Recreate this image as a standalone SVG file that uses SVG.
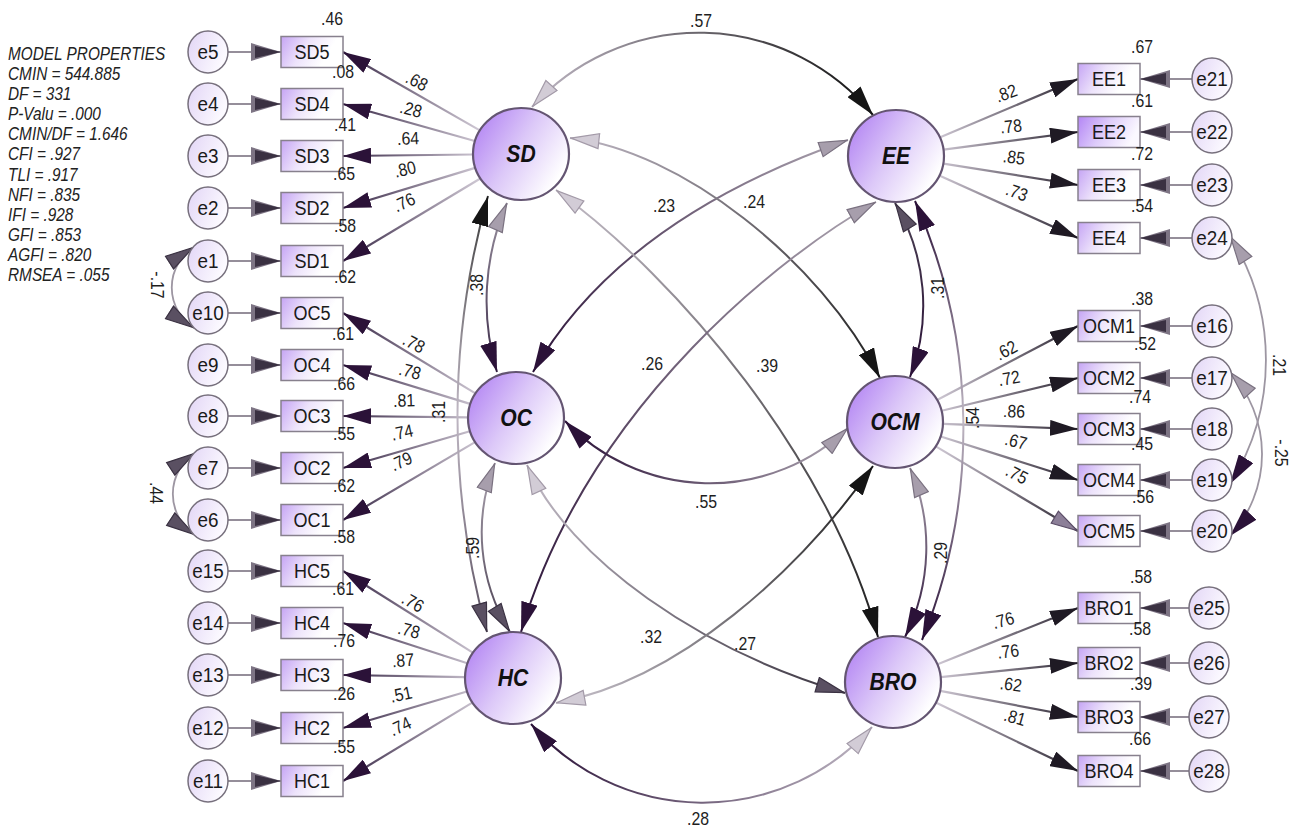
<svg xmlns="http://www.w3.org/2000/svg" width="1292" height="827" viewBox="0 0 1292 827">
<style>
  text { font-family: "Liberation Sans", Arial, sans-serif; }
  .n  { font-size: 18px; fill: #1e1e1e; text-anchor: middle; transform: scaleX(.88); transform-box: fill-box; transform-origin: center; }
  .bl { font-size: 21px; fill: #1a1a1a; text-anchor: middle; transform: scaleX(.86); transform-box: fill-box; transform-origin: center; }
  .el { font-size: 21px; fill: #1a1a1a; text-anchor: middle; transform: scaleX(.9); transform-box: fill-box; transform-origin: center; }
  .lv { font-size: 24px; font-weight: bold; font-style: italic; fill: #111; text-anchor: middle; transform: scaleX(.88); transform-box: fill-box; transform-origin: center; }
  .mp { font-size: 18.5px; font-style: italic; fill: #222; }
  .box { fill: url(#gBox); stroke: #87808d; stroke-width: 1.5; }
  .box2 { fill: url(#gBox2); stroke: #87808d; stroke-width: 1.5; }
  .err { fill: url(#gErr); stroke: #77707d; stroke-width: 1.5; }
  .lat { fill: url(#gLat); stroke: #645572; stroke-width: 2.2; }
  .ea { stroke: #958e9a; stroke-width: 2; fill: none; }
  .eaL { marker-end: url(#mErr); }
  .ldL { stroke: url(#gLoadL); stroke-width: 2.2; fill: none; marker-end: url(#mLoadL); }
  .ldR { stroke: url(#gLoadR); stroke-width: 2.2; fill: none; marker-end: url(#mLoadR); }
  .cv { fill: none; stroke-width: 2; }
  .ec { fill: none; stroke: #9d96a2; stroke-width: 1.8; }
</style>
<defs>
  <linearGradient id="gBox" x1="0" y1="0" x2="1" y2="0.3">
    <stop offset="0" stop-color="#c5a4f4"/><stop offset="0.45" stop-color="#ede3fb"/><stop offset="0.85" stop-color="#ffffff"/>
  </linearGradient>
  <linearGradient id="gBox2" x1="0" y1="0" x2="1" y2="0.3">
    <stop offset="0" stop-color="#b385f5"/><stop offset="0.5" stop-color="#ddcbfa"/><stop offset="1" stop-color="#fbf8ff"/>
  </linearGradient>
  <linearGradient id="gLat" x1="0" y1="0.2" x2="1" y2="0.8">
    <stop offset="0" stop-color="#b385f3"/><stop offset="0.45" stop-color="#dcc8f8"/><stop offset="0.9" stop-color="#ffffff"/>
  </linearGradient>
  <linearGradient id="gErr" x1="0" y1="0" x2="1" y2="0.4">
    <stop offset="0" stop-color="#e2d5f6"/><stop offset="1" stop-color="#fcfaff"/>
  </linearGradient>
  <linearGradient id="gLoadL" gradientUnits="userSpaceOnUse" x1="345" y1="0" x2="478" y2="0">
    <stop offset="0" stop-color="#3a2a48"/><stop offset="1" stop-color="#cdc6d2"/>
  </linearGradient>
  <linearGradient id="gLoadR" gradientUnits="userSpaceOnUse" x1="938" y1="0" x2="1078" y2="0">
    <stop offset="0" stop-color="#cdc6d2"/><stop offset="1" stop-color="#2a2430"/>
  </linearGradient>
  <linearGradient id="g57" gradientUnits="userSpaceOnUse" x1="532" y1="107" x2="873" y2="115"><stop offset="0" stop-color="#bdb5c2"/><stop offset="1" stop-color="#111"/></linearGradient>
  <linearGradient id="g23" gradientUnits="userSpaceOnUse" x1="533" y1="372" x2="848" y2="140"><stop offset="0" stop-color="#2b1238"/><stop offset="1" stop-color="#aaa2ae"/></linearGradient>
  <linearGradient id="g24" gradientUnits="userSpaceOnUse" x1="570" y1="138" x2="880" y2="378"><stop offset="0" stop-color="#bdb5c2"/><stop offset="1" stop-color="#1e1e1e"/></linearGradient>
  <linearGradient id="g39" gradientUnits="userSpaceOnUse" x1="556" y1="190" x2="878" y2="637"><stop offset="0" stop-color="#c2bbc6"/><stop offset="1" stop-color="#1e1e1e"/></linearGradient>
  <linearGradient id="g26" gradientUnits="userSpaceOnUse" x1="876" y1="202" x2="521" y2="632"><stop offset="0" stop-color="#aaa2ae"/><stop offset="1" stop-color="#2b1238"/></linearGradient>
  <linearGradient id="g55" gradientUnits="userSpaceOnUse" x1="565" y1="421" x2="848" y2="428"><stop offset="0" stop-color="#2b1238"/><stop offset="1" stop-color="#aaa2ae"/></linearGradient>
  <linearGradient id="g27" gradientUnits="userSpaceOnUse" x1="527" y1="465" x2="845" y2="693"><stop offset="0" stop-color="#c2bbc6"/><stop offset="1" stop-color="#3a3440"/></linearGradient>
  <linearGradient id="g32" gradientUnits="userSpaceOnUse" x1="873" y1="466" x2="556" y2="703"><stop offset="0" stop-color="#1a1a1a"/><stop offset="1" stop-color="#c8c2cc"/></linearGradient>
  <linearGradient id="g28" gradientUnits="userSpaceOnUse" x1="531" y1="724" x2="872" y2="727"><stop offset="0" stop-color="#2b1238"/><stop offset="1" stop-color="#bdb5c2"/></linearGradient>
  <linearGradient id="gA" gradientUnits="userSpaceOnUse" x1="507" y1="203" x2="497" y2="372"><stop offset="0" stop-color="#9a92a0"/><stop offset="1" stop-color="#3b2a48"/></linearGradient>
  <linearGradient id="gB" gradientUnits="userSpaceOnUse" x1="488" y1="196" x2="487" y2="632"><stop offset="0" stop-color="#3a3a3a"/><stop offset="0.5" stop-color="#c0b8c4"/><stop offset="1" stop-color="#5a5060"/></linearGradient>
  <linearGradient id="gC" gradientUnits="userSpaceOnUse" x1="495" y1="463" x2="510" y2="632"><stop offset="0" stop-color="#aaa2ae"/><stop offset="1" stop-color="#4a4052"/></linearGradient>
  <linearGradient id="gD" gradientUnits="userSpaceOnUse" x1="895" y1="203" x2="910" y2="377"><stop offset="0" stop-color="#4a4052"/><stop offset="1" stop-color="#2b1238"/></linearGradient>
  <linearGradient id="gE" gradientUnits="userSpaceOnUse" x1="915" y1="201" x2="922" y2="640"><stop offset="0" stop-color="#2b1238"/><stop offset="0.5" stop-color="#c0b8c4"/><stop offset="1" stop-color="#2b1238"/></linearGradient>
  <linearGradient id="gF" gradientUnits="userSpaceOnUse" x1="910" y1="468" x2="905" y2="637"><stop offset="0" stop-color="#aaa2ae"/><stop offset="1" stop-color="#2b1238"/></linearGradient>

  <marker id="mLoadL" markerUnits="userSpaceOnUse" viewBox="0 0 28 16" markerWidth="28" markerHeight="16" refX="28" refY="8" orient="auto-start-reverse"><path d="M0,0 L28,8 L0,16 z" fill="#2b1238"/></marker>
  <marker id="mLoadR" markerUnits="userSpaceOnUse" viewBox="0 0 28 16" markerWidth="28" markerHeight="16" refX="28" refY="8" orient="auto-start-reverse"><path d="M0,0 L28,8 L0,16 z" fill="#1f1a24"/></marker>
  <marker id="mLoadG" markerUnits="userSpaceOnUse" viewBox="0 0 28 16" markerWidth="28" markerHeight="16" refX="28" refY="8" orient="auto-start-reverse"><path d="M1,1 L27,8 L1,15 z" fill="#8c7f98" stroke="#5a4c66" stroke-width="1.2"/></marker>
  <marker id="mErr" markerUnits="userSpaceOnUse" viewBox="0 0 30 18" markerWidth="30" markerHeight="18" refX="30" refY="9" orient="auto-start-reverse"><path d="M0,0 L30,9 L0,18 z" fill="#7d7484"/><path d="M4,3 L30,9 L4,15 z" fill="#3a3142"/></marker>
  <marker id="mBlack" markerUnits="userSpaceOnUse" viewBox="0 0 30 17" markerWidth="30" markerHeight="17" refX="30" refY="8.5" orient="auto-start-reverse"><path d="M0,0 L30,8.5 L0,17 z" fill="#151515"/></marker>
  <marker id="mPurple" markerUnits="userSpaceOnUse" viewBox="0 0 30 17" markerWidth="30" markerHeight="17" refX="30" refY="8.5" orient="auto-start-reverse"><path d="M0,0 L30,8.5 L0,17 z" fill="#2b1238"/></marker>
  <marker id="mDark" markerUnits="userSpaceOnUse" viewBox="0 0 30 17" markerWidth="30" markerHeight="17" refX="30" refY="8.5" orient="auto-start-reverse"><path d="M1,1 L29,8.5 L1,16 z" fill="#5a5062" stroke="#3a3142" stroke-width="1.2"/></marker>
  <marker id="mGray" markerUnits="userSpaceOnUse" viewBox="0 0 30 17" markerWidth="30" markerHeight="17" refX="30" refY="8.5" orient="auto-start-reverse"><path d="M1,1 L29,8.5 L1,16 z" fill="#a79eac" stroke="#7a7180" stroke-width="1.2"/></marker>
  <marker id="mLight" markerUnits="userSpaceOnUse" viewBox="0 0 30 17" markerWidth="30" markerHeight="17" refX="30" refY="8.5" orient="auto-start-reverse"><path d="M1,1 L29,8.5 L1,16 z" fill="#d2ccd6" stroke="#a39aa8" stroke-width="1.2"/></marker>
</defs>

<rect width="1292" height="827" fill="#ffffff"/>

<!-- fit statistics -->
<g id="model-properties" transform="translate(8,0) scale(0.83,1)">
  <text class="mp" x="0" y="60">MODEL PROPERTIES</text>
  <text class="mp" x="0" y="80.1">CMIN = 544.885</text>
  <text class="mp" x="0" y="100.2">DF = 331</text>
  <text class="mp" x="0" y="120.3">P-Valu = .000</text>
  <text class="mp" x="0" y="140.4">CMIN/DF = 1.646</text>
  <text class="mp" x="0" y="160.5">CFI = .927</text>
  <text class="mp" x="0" y="180.6">TLI = .917</text>
  <text class="mp" x="0" y="200.7">NFI = .835</text>
  <text class="mp" x="0" y="220.8">IFI = .928</text>
  <text class="mp" x="0" y="240.9">GFI = .853</text>
  <text class="mp" x="0" y="261">AGFI = .820</text>
  <text class="mp" x="0" y="281.1">RMSEA = .055</text>
</g>

<!-- connectors -->
<g id="connectors">
  <!-- error terms to indicators, left -->
  <g class="ea">
    <path class="eaL" d="M228,52 H281"/><path class="eaL" d="M228,104 H281"/><path class="eaL" d="M228,156 H281"/>
    <path class="eaL" d="M228,208 H281"/><path class="eaL" d="M228,261 H281"/><path class="eaL" d="M228,313 H281"/>
    <path class="eaL" d="M228,365 H281"/><path class="eaL" d="M228,416 H281"/><path class="eaL" d="M228,468 H281"/>
    <path class="eaL" d="M228,520 H281"/><path class="eaL" d="M228,571 H281"/><path class="eaL" d="M228,623 H281"/>
    <path class="eaL" d="M228,675 H281"/><path class="eaL" d="M228,728 H281"/><path class="eaL" d="M228,781 H281"/>
  </g>
  <!-- error terms to indicators, right -->
  <g class="ea">
    <path class="eaL" d="M1192,79 H1140"/><path class="eaL" d="M1192,132 H1140"/><path class="eaL" d="M1192,185 H1140"/>
    <path class="eaL" d="M1192,238 H1140"/><path class="eaL" d="M1192,326 H1140"/><path class="eaL" d="M1192,378 H1140"/>
    <path class="eaL" d="M1192,429 H1140"/><path class="eaL" d="M1192,480 H1140"/><path class="eaL" d="M1192,531 H1140"/>
    <path class="eaL" d="M1189,608 H1140"/><path class="eaL" d="M1189,663 H1140"/><path class="eaL" d="M1189,717 H1140"/>
    <path class="eaL" d="M1189,771 H1140"/>
  </g>

  <!-- factor loadings, left -->
  <path class="ldL" d="M479.4,130.1 L343,52"/>
  <path class="ldL" d="M474.8,141 L343,104"/>
  <path class="ldL" d="M473,154.5 L343,156"/>
  <path class="ldL" d="M475.1,167.9 L343,208"/>
  <path class="ldL" d="M479.9,178.7 L343,261"/>
  <path class="ldL" d="M475,393.1 L343,313"/>
  <path class="ldL" d="M470.1,403.9 L343,365"/>
  <path class="ldL" d="M468,417.4 L343,416"/>
  <path class="ldL" d="M469.9,431.3 L343,468"/>
  <path class="ldL" d="M474.6,442.4 L343,520"/>
  <path class="ldL" d="M472.4,652.4 L343,571"/>
  <path class="ldL" d="M467.3,663.2 L343,623"/>
  <path class="ldL" d="M465,677.2 L343,675"/>
  <path class="ldL" d="M466.9,691.5 L343,728"/>
  <path class="ldL" d="M471.9,702.9 L343,781"/>

  <!-- factor loadings, right -->
  <path class="ldR" d="M940.2,137.3 L1078,79"/>
  <path class="ldR" d="M943.6,149.7 L1078,132"/>
  <path class="ldR" d="M943.4,163.6 L1078,185"/>
  <path class="ldR" d="M939.8,175.7 L1078,238"/>
  <path class="ldR" d="M937.5,399.7 L1078,326"/>
  <path class="ldR" d="M941.7,410.8 L1078,378"/>
  <path class="ldR" d="M943,423.8 L1078,429"/>
  <path class="ldR" d="M940.7,436.5 L1078,480"/>
  <path class="ldR" d="M936.2,446.6 L1078,531" style="marker-end:url(#mLoadG)"/>
  <path class="ldR" d="M937.6,664.2 L1078,608"/>
  <path class="ldR" d="M940.7,677.1 L1078,663"/>
  <path class="ldR" d="M940.2,690.9 L1078,717"/>
  <path class="ldR" d="M936.3,702.8 L1078,771"/>

  <!-- covariances between factors -->
  <path class="cv" stroke="url(#g57)" d="M532,107 A225,225 0 0 1 873,115" marker-start="url(#mLight)" marker-end="url(#mBlack)"/>
  <path class="cv" stroke="url(#g23)" d="M533,372 Q620,220 848,140" marker-start="url(#mPurple)" marker-end="url(#mGray)"/>
  <path class="cv" stroke="url(#g24)" d="M570,138 C680,150 820,260 880,378" marker-start="url(#mLight)" marker-end="url(#mBlack)"/>
  <path class="cv" stroke="url(#g39)" d="M556,190 C680,280 830,460 878,637" marker-start="url(#mLight)" marker-end="url(#mBlack)"/>
  <path class="cv" stroke="url(#g26)" d="M876,202 C790,250 590,400 521,632" marker-start="url(#mGray)" marker-end="url(#mPurple)"/>
  <path class="cv" stroke="url(#g55)" d="M565,421 A200,200 0 0 0 848,428" marker-start="url(#mPurple)" marker-end="url(#mGray)"/>
  <path class="cv" stroke="url(#g27)" d="M527,465 C570,560 700,650 845,693" marker-start="url(#mLight)" marker-end="url(#mDark)"/>
  <path class="cv" stroke="url(#g32)" d="M873,466 C800,570 680,680 556,703" marker-start="url(#mBlack)" marker-end="url(#mLight)"/>
  <path class="cv" stroke="url(#g28)" d="M531,724 A227,227 0 0 0 872,727" marker-start="url(#mPurple)" marker-end="url(#mLight)"/>
  <path class="cv" stroke="url(#gA)" d="M507,203 A246,246 0 0 0 497,372" marker-start="url(#mGray)" marker-end="url(#mPurple)"/>
  <path class="cv" stroke="url(#gB)" d="M488,196 A807,807 0 0 0 487,632" marker-start="url(#mBlack)" marker-end="url(#mDark)"/>
  <path class="cv" stroke="url(#gC)" d="M495,463 A189,189 0 0 0 510,632" marker-start="url(#mGray)" marker-end="url(#mDark)"/>
  <path class="cv" stroke="url(#gD)" d="M895,203 A200,200 0 0 1 910,377" marker-start="url(#mDark)" marker-end="url(#mPurple)"/>
  <path class="cv" stroke="url(#gE)" d="M915,201 A560,560 0 0 1 922,640" marker-start="url(#mPurple)" marker-end="url(#mPurple)"/>
  <path class="cv" stroke="url(#gF)" d="M910,468 A200,200 0 0 1 905,637" marker-start="url(#mGray)" marker-end="url(#mPurple)"/>

  <!-- covariances between error terms -->
  <path class="ec" d="M194,247 A48,48 0 0 0 194,328" marker-start="url(#mDark)" marker-end="url(#mDark)"/>
  <path class="ec" d="M195,453 A49,49 0 0 0 195,535" marker-start="url(#mDark)" marker-end="url(#mDark)"/>
  <path class="ec" d="M1230,236 A232,232 0 0 1 1230,484" marker-start="url(#mGray)" marker-end="url(#mPurple)"/>
  <path class="ec" d="M1230,372 A121,121 0 0 1 1230,536" marker-start="url(#mGray)" marker-end="url(#mPurple)"/>
</g>

<!-- latent factors -->
<g id="SD"><ellipse class="lat" cx="521" cy="154" rx="48" ry="46"/><text class="lv" x="521" y="162.5">SD</text></g>
<g id="EE"><ellipse class="lat" cx="896" cy="156" rx="48" ry="46"/><text class="lv" x="896" y="164.5">EE</text></g>
<g id="OC"><ellipse class="lat" cx="516" cy="418" rx="48" ry="46"/><text class="lv" x="516" y="426.5">OC</text></g>
<g id="OCM"><ellipse class="lat" cx="895" cy="422" rx="48" ry="46"/><text class="lv" x="895" y="430.5">OCM</text></g>
<g id="HC"><ellipse class="lat" cx="513" cy="678" rx="48" ry="46"/><text class="lv" x="513" y="686.5">HC</text></g>
<g id="BRO"><ellipse class="lat" cx="893" cy="682" rx="48" ry="46"/><text class="lv" x="893" y="690.5">BRO</text></g>

<!-- indicators, left -->
<g id="SD5"><rect class="box" x="281" y="36.5" width="62" height="31"/><text class="bl" x="312" y="59.5">SD5</text></g>
<g id="SD4"><rect class="box" x="281" y="88.5" width="62" height="31"/><text class="bl" x="312" y="111.5">SD4</text></g>
<g id="SD3"><rect class="box" x="281" y="140.5" width="62" height="31"/><text class="bl" x="312" y="163.5">SD3</text></g>
<g id="SD2"><rect class="box" x="281" y="192.5" width="62" height="31"/><text class="bl" x="312" y="215.5">SD2</text></g>
<g id="SD1"><rect class="box" x="281" y="245.5" width="62" height="31"/><text class="bl" x="312" y="268.5">SD1</text></g>
<g id="OC5"><rect class="box" x="281" y="297.5" width="62" height="31"/><text class="bl" x="312" y="320.5">OC5</text></g>
<g id="OC4"><rect class="box" x="281" y="349.5" width="62" height="31"/><text class="bl" x="312" y="372.5">OC4</text></g>
<g id="OC3"><rect class="box" x="281" y="400.5" width="62" height="31"/><text class="bl" x="312" y="423.5">OC3</text></g>
<g id="OC2"><rect class="box" x="281" y="452.5" width="62" height="31"/><text class="bl" x="312" y="475.5">OC2</text></g>
<g id="OC1"><rect class="box" x="281" y="504.5" width="62" height="31"/><text class="bl" x="312" y="527.5">OC1</text></g>
<g id="HC5"><rect class="box" x="281" y="555.5" width="62" height="31"/><text class="bl" x="312" y="578.5">HC5</text></g>
<g id="HC4"><rect class="box" x="281" y="607.5" width="62" height="31"/><text class="bl" x="312" y="630.5">HC4</text></g>
<g id="HC3"><rect class="box" x="281" y="659.5" width="62" height="31"/><text class="bl" x="312" y="682.5">HC3</text></g>
<g id="HC2"><rect class="box" x="281" y="712.5" width="62" height="31"/><text class="bl" x="312" y="735.5">HC2</text></g>
<g id="HC1"><rect class="box" x="281" y="765.5" width="62" height="31"/><text class="bl" x="312" y="788.5">HC1</text></g>

<!-- indicators, right -->
<g id="EE1"><rect class="box" x="1078" y="63.5" width="62" height="31"/><text class="bl" x="1109" y="86.5">EE1</text></g>
<g id="EE2"><rect class="box2" x="1078" y="116.5" width="62" height="31"/><text class="bl" x="1109" y="139.5">EE2</text></g>
<g id="EE3"><rect class="box" x="1078" y="169.5" width="62" height="31"/><text class="bl" x="1109" y="192.5">EE3</text></g>
<g id="EE4"><rect class="box" x="1078" y="222.5" width="62" height="31"/><text class="bl" x="1109" y="245.5">EE4</text></g>
<g id="OCM1"><rect class="box" x="1078" y="310.5" width="62" height="31"/><text class="bl" x="1109" y="333.5">OCM1</text></g>
<g id="OCM2"><rect class="box" x="1078" y="362.5" width="62" height="31"/><text class="bl" x="1109" y="385.5">OCM2</text></g>
<g id="OCM3"><rect class="box" x="1078" y="413.5" width="62" height="31"/><text class="bl" x="1109" y="436.5">OCM3</text></g>
<g id="OCM4"><rect class="box" x="1078" y="464.5" width="62" height="31"/><text class="bl" x="1109" y="487.5">OCM4</text></g>
<g id="OCM5"><rect class="box" x="1078" y="515.5" width="62" height="31"/><text class="bl" x="1109" y="538.5">OCM5</text></g>
<g id="BRO1"><rect class="box" x="1078" y="592.5" width="62" height="31"/><text class="bl" x="1109" y="615.5">BRO1</text></g>
<g id="BRO2"><rect class="box" x="1078" y="647.5" width="62" height="31"/><text class="bl" x="1109" y="670.5">BRO2</text></g>
<g id="BRO3"><rect class="box" x="1078" y="701.5" width="62" height="31"/><text class="bl" x="1109" y="724.5">BRO3</text></g>
<g id="BRO4"><rect class="box" x="1078" y="755.5" width="62" height="31"/><text class="bl" x="1109" y="778.5">BRO4</text></g>

<!-- error terms, left -->
<g id="e5"><ellipse class="err" cx="208" cy="52" rx="20" ry="21"/><text class="el" x="208" y="59.5">e5</text></g>
<g id="e4"><ellipse class="err" cx="208" cy="104" rx="20" ry="21"/><text class="el" x="208" y="111.5">e4</text></g>
<g id="e3"><ellipse class="err" cx="208" cy="156" rx="20" ry="21"/><text class="el" x="208" y="163.5">e3</text></g>
<g id="e2"><ellipse class="err" cx="208" cy="208" rx="20" ry="21"/><text class="el" x="208" y="215.5">e2</text></g>
<g id="e1"><ellipse class="err" cx="208" cy="261" rx="20" ry="21"/><text class="el" x="208" y="268.5">e1</text></g>
<g id="e10"><ellipse class="err" cx="208" cy="313" rx="20" ry="21"/><text class="el" x="208" y="320.5">e10</text></g>
<g id="e9"><ellipse class="err" cx="208" cy="365" rx="20" ry="21"/><text class="el" x="208" y="372.5">e9</text></g>
<g id="e8"><ellipse class="err" cx="208" cy="416" rx="20" ry="21"/><text class="el" x="208" y="423.5">e8</text></g>
<g id="e7"><ellipse class="err" cx="208" cy="468" rx="20" ry="21"/><text class="el" x="208" y="475.5">e7</text></g>
<g id="e6"><ellipse class="err" cx="208" cy="520" rx="20" ry="21"/><text class="el" x="208" y="527.5">e6</text></g>
<g id="e15"><ellipse class="err" cx="208" cy="571" rx="20" ry="21"/><text class="el" x="208" y="578.5">e15</text></g>
<g id="e14"><ellipse class="err" cx="208" cy="623" rx="20" ry="21"/><text class="el" x="208" y="630.5">e14</text></g>
<g id="e13"><ellipse class="err" cx="208" cy="675" rx="20" ry="21"/><text class="el" x="208" y="682.5">e13</text></g>
<g id="e12"><ellipse class="err" cx="208" cy="728" rx="20" ry="21"/><text class="el" x="208" y="735.5">e12</text></g>
<g id="e11"><ellipse class="err" cx="208" cy="781" rx="20" ry="21"/><text class="el" x="208" y="788.5">e11</text></g>

<!-- error terms, right -->
<g id="e21"><ellipse class="err" cx="1212" cy="79" rx="20" ry="21"/><text class="el" x="1212" y="86.5">e21</text></g>
<g id="e22"><ellipse class="err" cx="1212" cy="132" rx="20" ry="21"/><text class="el" x="1212" y="139.5">e22</text></g>
<g id="e23"><ellipse class="err" cx="1212" cy="185" rx="20" ry="21"/><text class="el" x="1212" y="192.5">e23</text></g>
<g id="e24"><ellipse class="err" cx="1212" cy="238" rx="20" ry="21"/><text class="el" x="1212" y="245.5">e24</text></g>
<g id="e16"><ellipse class="err" cx="1212" cy="326" rx="20" ry="21"/><text class="el" x="1212" y="333.5">e16</text></g>
<g id="e17"><ellipse class="err" cx="1212" cy="378" rx="20" ry="21"/><text class="el" x="1212" y="385.5">e17</text></g>
<g id="e18"><ellipse class="err" cx="1212" cy="429" rx="20" ry="21"/><text class="el" x="1212" y="436.5">e18</text></g>
<g id="e19"><ellipse class="err" cx="1212" cy="480" rx="20" ry="21"/><text class="el" x="1212" y="487.5">e19</text></g>
<g id="e20"><ellipse class="err" cx="1212" cy="531" rx="20" ry="21"/><text class="el" x="1212" y="538.5">e20</text></g>
<g id="e25"><ellipse class="err" cx="1209" cy="608" rx="20" ry="21"/><text class="el" x="1209" y="615.5">e25</text></g>
<g id="e26"><ellipse class="err" cx="1209" cy="663" rx="20" ry="21"/><text class="el" x="1209" y="670.5">e26</text></g>
<g id="e27"><ellipse class="err" cx="1209" cy="717" rx="20" ry="21"/><text class="el" x="1209" y="724.5">e27</text></g>
<g id="e28"><ellipse class="err" cx="1209" cy="771" rx="20" ry="21"/><text class="el" x="1209" y="778.5">e28</text></g>

<!-- squared multiple correlations -->
<g id="r2-labels">
  <text class="n" x="332" y="25">.46</text>
  <text class="n" x="343" y="78">.08</text>
  <text class="n" x="345" y="131">.41</text>
  <text class="n" x="344" y="180">.65</text>
  <text class="n" x="345" y="232">.58</text>
  <text class="n" x="345" y="283">.62</text>
  <text class="n" x="343" y="340">.61</text>
  <text class="n" x="344" y="390">.66</text>
  <text class="n" x="344" y="440">.55</text>
  <text class="n" x="344" y="492">.62</text>
  <text class="n" x="344" y="543">.58</text>
  <text class="n" x="343" y="595">.61</text>
  <text class="n" x="344" y="647">.76</text>
  <text class="n" x="344" y="700">.26</text>
  <text class="n" x="344" y="753">.55</text>
  <text class="n" x="1142" y="53">.67</text>
  <text class="n" x="1142" y="107">.61</text>
  <text class="n" x="1142" y="160">.72</text>
  <text class="n" x="1142" y="212">.54</text>
  <text class="n" x="1142" y="305">.38</text>
  <text class="n" x="1145" y="350">.52</text>
  <text class="n" x="1140" y="403">.74</text>
  <text class="n" x="1142" y="450">.45</text>
  <text class="n" x="1143" y="503">.56</text>
  <text class="n" x="1141" y="583">.58</text>
  <text class="n" x="1140" y="635">.58</text>
  <text class="n" x="1141" y="690">.39</text>
  <text class="n" x="1140" y="745">.66</text>
</g>

<!-- loading labels -->
<g id="loading-labels">
  <g transform="translate(417,81) rotate(27)"><text class="n" y="6.5">.68</text></g>
  <g transform="translate(411,109) rotate(15)"><text class="n" y="6.5">.28</text></g>
  <g transform="translate(408,138) rotate(-2)"><text class="n" y="6.5">.64</text></g>
  <g transform="translate(405,169) rotate(-13)"><text class="n" y="6.5">.80</text></g>
  <g transform="translate(404,202) rotate(-25)"><text class="n" y="6.5">.76</text></g>
  <g transform="translate(414,343) rotate(28)"><text class="n" y="6.5">.78</text></g>
  <g transform="translate(410,371) rotate(15)"><text class="n" y="6.5">.78</text></g>
  <g transform="translate(404,400) rotate(-2)"><text class="n" y="6.5">.81</text></g>
  <g transform="translate(402,432) rotate(-12)"><text class="n" y="6.5">.74</text></g>
  <g transform="translate(401,461) rotate(-25)"><text class="n" y="6.5">.79</text></g>
  <g transform="translate(413,602) rotate(30)"><text class="n" y="6.5">.76</text></g>
  <g transform="translate(409,630) rotate(15)"><text class="n" y="6.5">.78</text></g>
  <g transform="translate(403,660) rotate(-4)"><text class="n" y="6.5">.87</text></g>
  <g transform="translate(401,694) rotate(-12)"><text class="n" y="6.5">.51</text></g>
  <g transform="translate(400,726) rotate(-25)"><text class="n" y="6.5">.74</text></g>
  <g transform="translate(1006,93) rotate(-20)"><text class="n" y="6.5">.82</text></g>
  <g transform="translate(1011,126) rotate(-6)"><text class="n" y="6.5">.78</text></g>
  <g transform="translate(1014,157) rotate(8)"><text class="n" y="6.5">.85</text></g>
  <g transform="translate(1017,192) rotate(20)"><text class="n" y="6.5">.73</text></g>
  <g transform="translate(1006,350) rotate(-28)"><text class="n" y="6.5">.62</text></g>
  <g transform="translate(1009,378) rotate(-10)"><text class="n" y="6.5">.72</text></g>
  <g transform="translate(1014,411) rotate(2)"><text class="n" y="6.5">.86</text></g>
  <g transform="translate(1016,441) rotate(15)"><text class="n" y="6.5">.67</text></g>
  <g transform="translate(1017,474) rotate(28)"><text class="n" y="6.5">.75</text></g>
  <g transform="translate(1003,620) rotate(-16)"><text class="n" y="6.5">.76</text></g>
  <g transform="translate(1008,651) rotate(-7)"><text class="n" y="6.5">.76</text></g>
  <g transform="translate(1011,684) rotate(8)"><text class="n" y="6.5">.62</text></g>
  <g transform="translate(1015,717) rotate(16)"><text class="n" y="6.5">.81</text></g>
</g>

<!-- covariance labels -->
<g id="covariance-labels">
  <text class="n" x="701" y="27">.57</text>
  <text class="n" x="664" y="212">.23</text>
  <text class="n" x="754" y="208">.24</text>
  <text class="n" x="652" y="370">.26</text>
  <text class="n" x="767" y="372">.39</text>
  <text class="n" x="706" y="508">.55</text>
  <text class="n" x="651" y="643">.32</text>
  <text class="n" x="745" y="650">.27</text>
  <text class="n" x="698" y="825">.28</text>
  <g transform="translate(476,285) rotate(-90)"><text class="n" y="6.5">.38</text></g>
  <g transform="translate(438,412) rotate(-90)"><text class="n" y="6.5">.31</text></g>
  <g transform="translate(472,548) rotate(-90)"><text class="n" y="6.5">.59</text></g>
  <g transform="translate(937,288) rotate(-90)"><text class="n" y="6.5">.31</text></g>
  <g transform="translate(972,418) rotate(-90)"><text class="n" y="6.5">.54</text></g>
  <g transform="translate(940,553) rotate(-90)"><text class="n" y="6.5">.29</text></g>
  <g transform="translate(158,285) rotate(90)"><text class="n" y="6.5">-.17</text></g>
  <g transform="translate(157,493) rotate(90)"><text class="n" y="6.5">.44</text></g>
  <g transform="translate(1280,365) rotate(90)"><text class="n" y="6.5">.21</text></g>
  <g transform="translate(1282,453) rotate(90)"><text class="n" y="6.5">-.25</text></g>
</g>
</svg>
